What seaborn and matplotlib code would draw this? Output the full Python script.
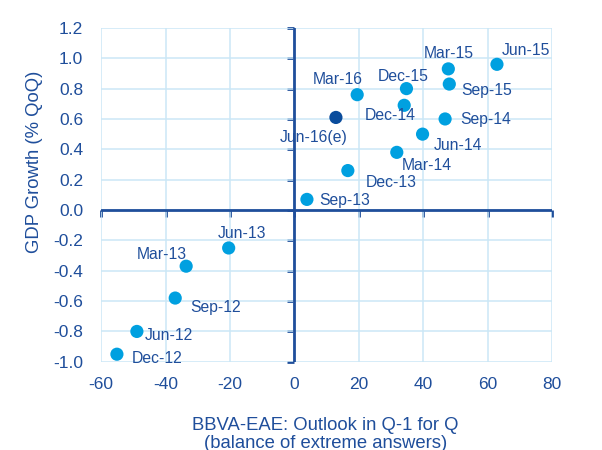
import pandas as pd
import matplotlib.pyplot as plt
import seaborn as sns

sns.set_theme(style="white")
plt.rcParams['font.family'] = ['Liberation Sans', 'DejaVu Sans']
plt.rcParams['axes.unicode_minus'] = False

# 数据
quarters = ["Jun-12", "Sep-12", "Dec-12", "Mar-13", "Jun-13", "Sep-13", "Dec-13",
            "Mar-14", "Jun-14", "Sep-14", "Dec-14", "Mar-15", "Jun-15", "Sep-15",
            "Dec-15", "Mar-16", "Jun-16(e)"]
outlook = [-48.9, -37.0, -55.1, -33.6, -20.4, 3.9, 16.6,
           31.8, 39.8, 46.8, 34.1, 47.8, 62.9, 48.1,
           34.8, 19.5, 12.9]
gdp = [-0.80, -0.58, -0.95, -0.37, -0.25, 0.07, 0.26,
       0.38, 0.50, 0.60, 0.69, 0.93, 0.96, 0.83,
       0.80, 0.76, 0.61]
kind = ["obs"] * 16 + ["est"]

x_ticks = [-60, -40, -20, 0, 20, 40, 60, 80]
y_ticks = [-1.0, -0.8, -0.6, -0.4, -0.2, 0.0, 0.2, 0.4, 0.6, 0.8, 1.0, 1.2]

# 标签偏移（像素）和对齐方式
label_pos = {
    "Jun-12": (8, -4, "left"), "Sep-12": (15, -9, "left"), "Dec-12": (15, -4, "left"),
    "Mar-13": (-24, 12, "center"), "Jun-13": (13, 14, "center"), "Sep-13": (12, -1, "left"),
    "Dec-13": (18, -12, "left"), "Mar-14": (5, -13, "left"), "Jun-14": (11, -11, "left"),
    "Sep-14": (15, -1, "left"), "Dec-14": (-14, -10, "center"), "Mar-15": (0, 15, "center"),
    "Jun-15": (5, 14, "left"), "Sep-15": (12, -6, "left"), "Dec-15": (-3, 12, "center"),
    "Mar-16": (-19, 15, "center"), "Jun-16(e)": (-22, -20, "center"),
}

dark = '#1f4e9b'
grid_c = '#cbe7f6'

df = pd.DataFrame({'季度': quarters, 'x': outlook, 'y': gdp, 'kind': kind})

fig = plt.figure(figsize=(6.02, 4.5), dpi=100)
ax = fig.add_axes([0.168, 0.196, 0.749, 0.742])

xmin, xmax = -60, 80
ymin, ymax = -1.0, 1.2
ax.set_xlim(xmin, xmax)
ax.set_ylim(ymin, ymax)
ax.set_xticks(x_ticks)
ax.set_yticks(y_ticks)
ax.set_yticklabels([f'{v:.1f}' for v in y_ticks])
ax.grid(True, color=grid_c, linewidth=1.1)
for s in ax.spines.values():
    s.set_visible(False)
ax.tick_params(axis='both', length=0, labelsize=12.5, labelcolor=dark)
ax.tick_params(axis='y', pad=13)
ax.tick_params(axis='x', pad=11)

# 零轴线
ax.axhline(0, color=dark, linewidth=2, zorder=2)
ax.axvline(0, color=dark, linewidth=2, zorder=2)

# 零轴上的刻度
secx = ax.secondary_xaxis((0 - ymin) / (ymax - ymin))
secx.set_xticks(x_ticks)
secx.tick_params(direction='out', length=5, width=2, color=dark, labelbottom=False, labeltop=False)
secx.spines[:].set_visible(False)
secy = ax.secondary_yaxis((0 - xmin) / (xmax - xmin))
secy.set_yticks(y_ticks)
secy.tick_params(direction='out', length=5, width=2, color=dark, labelleft=False, labelright=False)
secy.spines[:].set_visible(False)

sns.scatterplot(data=df, x='x', y='y', hue='kind',
                palette={'obs': '#00a0e0', 'est': '#0a4c9c'},
                s=90, edgecolor='none', legend=False, ax=ax, zorder=3)

for q, xv, yv in zip(quarters, outlook, gdp):
    dx, dy, ha = label_pos[q]
    ax.annotate(q, (xv, yv), xytext=(dx, dy), textcoords='offset pixels',
                ha=ha, va='center', fontsize=11.3, color=dark, zorder=4)

ax.set_xlabel('BBVA-EAE: Outlook in Q-1 for Q\n(balance of extreme answers)',
              fontsize=13.3, color=dark, linespacing=1.05)
ax.xaxis.set_label_coords(0.497, -0.165, transform=ax.transAxes)
ax.xaxis.label.set_va('top')
ax.set_ylabel('GDP Growth (% QoQ)', fontsize=13.3, color=dark)
ax.yaxis.set_label_coords(-0.147, 0.599)
ax.yaxis.label.set_va('center')

fig.savefig('out.png', dpi=100)
